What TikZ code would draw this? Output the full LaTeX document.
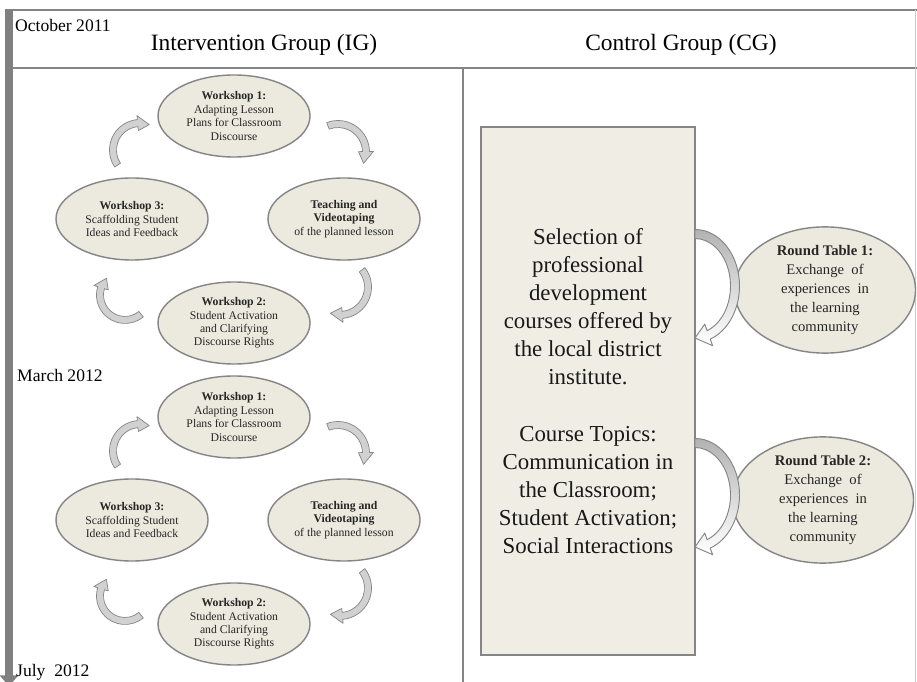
\documentclass[tikz,border=0pt]{standalone}
\usepackage{fontspec}
\setmainfont{Liberation Serif}
\usetikzlibrary{shapes.geometric,arrows.meta}

\definecolor{pale}{HTML}{ECEADF}
\definecolor{rim}{HTML}{858585}
\definecolor{bargray}{HTML}{808080}

\tikzset{
  stage/.style={ellipse,draw=rim,line width=1.2pt,fill=pale,inner sep=0pt,
    minimum width=4.56cm,minimum height=2.46cm,align=center,
    font=\fontsize{10}{11.4}\selectfont,text=black!85},
  roundtable/.style={stage,minimum width=5.43cm,minimum height=3.75cm,
    font=\fontsize{12.5}{16.2}\selectfont},
  topicbox/.style={rectangle,draw=rim,line width=1.5pt,fill=pale!85!white,
    minimum width=6.42cm,minimum height=15.84cm,align=center,
    font=\fontsize{19.5}{24}\selectfont,text=black!90},
  bent/.style={draw=rim,line width=0.6pt,fill=black!18,line join=round},
  bigbent/.style={draw=rim,line width=0.8pt,top color=black!30,bottom color=white,line join=round},
  rule/.style={draw=rim,line width=1.3pt},
  datelabel/.style={anchor=base west,inner sep=0pt,font=\fontsize{15}{18}\selectfont},
  grouptitle/.style={anchor=base,inner sep=0pt,font=\fontsize{20}{24}\selectfont},
}

% #1 style, #2 centre, #3/#4 radii, #5 start angle, #6 tip angle,
% #7 half band, #8 half head, #9 head angle
\newcommand{\roundarrow}[9]{
  \begin{scope}[shift={#2}]
    \pgfmathsetmacro{\hb}{#6+#9}
    \pgfmathsetmacro{\ox}{#3+#7}\pgfmathsetmacro{\oy}{#4+#7}
    \pgfmathsetmacro{\ix}{#3-#7}\pgfmathsetmacro{\iy}{#4-#7}
    \pgfmathsetmacro{\hx}{#3+#8}\pgfmathsetmacro{\hy}{#4+#8}
    \pgfmathsetmacro{\jx}{#3-#8}\pgfmathsetmacro{\jy}{#4-#8}
    \draw [#1] (xyz polar cs:angle=#5,x radius=\ox,y radius=\oy)
      arc [start angle=#5,end angle=\hb,x radius=\ox,y radius=\oy]
      -- (xyz polar cs:angle=\hb,x radius=\hx,y radius=\hy)
      -- (xyz polar cs:angle=#6,x radius=#3,y radius=#4)
      -- (xyz polar cs:angle=\hb,x radius=\jx,y radius=\jy)
      -- (xyz polar cs:angle=\hb,x radius=\ix,y radius=\iy)
      arc [start angle=\hb,end angle=#5,x radius=\ix,y radius=\iy] -- cycle;
  \end{scope}
}

\newcommand{\workshopround}[2]{
  \begin{scope}[shift={(0,-#1)}]
    \node [stage] (ws1#2) at (234,-116) {\textbf{Workshop 1:}\\Adapting Lesson\\Plans for Classroom\\Discourse};
    \node [stage] (ws3#2) at (132,-219) {\textbf{Workshop 3:}\\Scaffolding Student\\Ideas and Feedback};
    \node [stage] (tv#2) at (344,-219) {\textbf{Teaching and}\\\textbf{Videotaping}\\of the planned lesson};
    \node [stage] (ws2#2) at (234,-323) {\textbf{Workshop 2:}\\Student Activation\\and Clarifying\\Discourse Rights};

    \roundarrow{bent}{(140,-150)}{27}{27}{214}{70}{3.5}{7.5}{25}
    \roundarrow{bent}{(338,-152)}{28}{28}{111}{-24}{3.5}{7.5}{25}
    \roundarrow{bent}{(340,-287)}{28}{28}{38}{-110}{3.5}{7.5}{25}
    \roundarrow{bent}{(125,-295)}{25}{25}{-50}{-222}{3.5}{7.5}{25}
  \end{scope}
}

\begin{document}
\begin{tikzpicture}[x=0.03cm,y=0.03cm]
  \useasboundingbox [fill=white] (0,0) rectangle (917,-682);

  % table rules
  \draw [rule,line width=1.6pt] (5,-10) -- (917,-10);
  \draw [rule] (13,-68) -- (917,-68);
  \draw [rule] (463,-68) -- (463,-682);
  \draw [black!20,line width=0.6pt] (915.5,-10) -- (915.5,-682);

  % time line
  \draw [bargray,line width=6.8pt,-{Triangle[length=9pt,width=15.5pt]}] (9,-10) -- (9,-686);

  \node [datelabel] (oct) at (15,-32) {October 2011};
  \node [datelabel] (mar) at (17,-382) {March 2012};
  \node [datelabel] (jul) at (16,-676) {July\ \ 2012};

  \node [grouptitle] (ig) at (264,-51) {Intervention Group (IG)};
  \node [grouptitle] (cg) at (681,-51) {Control Group (CG)};

  \workshopround{0}{a}
  \workshopround{301}{b}

  \node [topicbox] (courses) at (588,-391) {Selection of\\professional\\development\\courses offered by\\the local district\\institute.\\[24pt]Course Topics:\\Communication in\\the Classroom;\\Student Activation;\\Social Interactions};

  \node [roundtable] (rt1) at (825,-290) {\textbf{Round Table 1:}\\Exchange\ \ of\\experiences\ \ in\\the learning\\community};
  \node [roundtable] (rt2) at (823,-500) {\textbf{Round Table 2:}\\Exchange\ \ of\\experiences\ \ in\\the learning\\community};

  \roundarrow{bigbent}{(695,-286)}{40}{52}{90}{-90}{4.5}{11.5}{20}
  \roundarrow{bigbent}{(695,-495)}{40}{52}{90}{-90}{4.5}{11.5}{20}
\end{tikzpicture}
\end{document}
